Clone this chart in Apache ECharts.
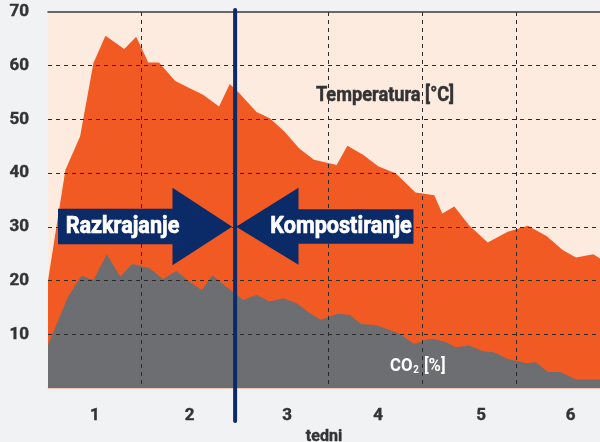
<!DOCTYPE html>
<html>
<head>
<meta charset="utf-8">
<script src="https://cdn.jsdelivr.net/npm/echarts@6/dist/echarts.min.js"></script>
<style>
html,body{margin:0;padding:0;background:#f1f2f4;}
#c{width:600px;height:442px;}
</style>
</head>
<body>
<div id="c"></div>
<script>
// ---- data (x in days) ----
const tempDays   = [0, 1.3, 2.4, 3.4, 4.3, 5.7, 6.6, 7.5, 8.3, 9.5, 10.3, 11.6, 12.8, 13.6, 14.3, 15.6, 16.6, 17.7, 18.8, 19.9, 21.6, 22.4, 23.6, 24.7, 26.0, 27.5, 28.9, 29.5, 30.4, 31.5, 32.9, 34.4, 35.9, 37.3, 38.5, 39.5, 40.8, 41.3];
const tempValues = [20, 40.6, 46.8, 60.5, 65.6, 63.1, 65.4, 60.6, 60.6, 57.2, 56.2, 54.6, 52.4, 56.6, 54.9, 51.4, 50.2, 47.7, 44.6, 42.5, 41.5, 45.1, 43.4, 41.3, 40.0, 36.4, 35.9, 32.5, 33.8, 30.3, 27.1, 29.1, 30.2, 28.3, 25.7, 24.3, 24.9, 24.1];
const co2Days    = [0, 1.5, 2.5, 3.4, 4.4, 5.4, 6.3, 7.6, 8.6, 9.6, 10.6, 11.5, 12.3, 13.3, 14.0, 14.6, 15.6, 16.6, 17.6, 18.6, 19.6, 20.4, 21.7, 22.6, 23.4, 24.6, 26.3, 27.4, 28.5, 28.8, 29.7, 30.5, 31.5, 32.5, 33.4, 34.4, 35.8, 36.5, 37.4, 38.3, 39.5, 41.3];
const co2Values  = [8.0, 17.0, 20.9, 20.1, 24.9, 20.7, 23.1, 22.3, 20.3, 21.8, 19.8, 18.2, 21.0, 18.9, 17.6, 16.4, 17.3, 16.1, 16.7, 15.8, 13.9, 12.7, 13.8, 13.6, 11.9, 11.7, 10.1, 8.2, 9.1, 9.1, 8.6, 7.6, 7.9, 6.9, 6.6, 5.4, 4.6, 4.8, 3.0, 3.0, 1.6, 1.6];
const weekLabels = ['1', '2', '3', '4', '5', '6'];
const weekLabelDays = [3.5, 10.6, 17.9, 24.7, 32.4, 39.1];
const phaseSplitDay = 14;
const xAxisName = 'tedni';
const tempLabel = 'Temperatura [°C]';
const phase1 = 'Razkrajanje';
const phase2 = 'Kompostiranje';

const FONT = 'Roboto, sans-serif';
const NAVY = '#0b2a68';
const DARK = '#333333';

const chart = echarts.init(document.getElementById('c'));
const zip = (xs, ys) => xs.map((x, i) => [x, ys[i]]);

chart.setOption({
  backgroundColor: '#f1f2f4',
  animation: false,
  grid: { left: 48, right: 0, top: 12, bottom: 54, show: true, backgroundColor: '#fdebdf', borderWidth: 0, containLabel: false, outerBoundsMode: 'none' },
  xAxis: [
    {
      type: 'value', min: 0, max: 41.3, interval: 7, position: 'bottom', z: 5,
      name: xAxisName, nameLocation: 'middle', nameGap: 41,
      nameTextStyle: { fontFamily: FONT, fontWeight: 'bold', fontSize: 16, color: DARK, textBorderColor: DARK, textBorderWidth: 0.4 },
      axisLine: { show: true, lineStyle: { color: '#efc9b6', width: 1 } },
      axisTick: { show: false },
      axisLabel: {
        customValues: weekLabelDays,
        formatter: (v) => { const i = weekLabelDays.indexOf(v); return i >= 0 ? weekLabels[i] : ''; },
        fontFamily: FONT, fontWeight: 'bold', fontSize: 17, color: DARK, margin: 19,
        textBorderColor: DARK, textBorderWidth: 0.4
      },
      splitLine: { show: true, showMinLine: false, showMaxLine: false, lineStyle: { type: [4, 4], color: '#2a2a2a', width: 1 } }
    },
    {
      type: 'value', min: 0, max: 41.3, position: 'top', z: 5,
      axisLine: { show: true, lineStyle: { color: '#3a3a3a', width: 1.5 } },
      axisTick: { show: false }, axisLabel: { show: false }, splitLine: { show: false }
    }
  ],
  yAxis: {
    type: 'value', min: 0, max: 70, interval: 10, z: 5,
    axisLine: { show: false }, axisTick: { show: false },
    axisLabel: { showMinLabel: false, fontFamily: FONT, fontWeight: 'bold', fontSize: 17, color: DARK, margin: 19,
      textBorderColor: DARK, textBorderWidth: 0.4 },
    splitLine: { show: true, showMinLine: false, showMaxLine: false, lineStyle: { type: [4, 4], color: '#2a2a2a', width: 1 } }
  },
  series: [
    {
      type: 'line', data: zip(tempDays, tempValues), symbol: 'none', z: 1,
      lineStyle: { width: 0 }, areaStyle: { color: '#f15a22', opacity: 1 }
    },
    {
      type: 'line', data: zip(co2Days, co2Values), symbol: 'none', z: 1,
      lineStyle: { width: 0 }, areaStyle: { color: '#6d6e71', opacity: 1 }
    }
  ]
});

const sx = chart.convertToPixel({ xAxisIndex: 0 }, phaseSplitDay);
const tipY = chart.convertToPixel({ yAxisIndex: 0 }, 30);

chart.setOption({
  graphic: [
    { type: 'polygon', z: 10, shape: { points: [[58, tipY - 18], [172.5, tipY - 18], [172.5, tipY - 39], [sx - 3, tipY], [172.5, tipY + 38.5], [172.5, tipY + 17.5], [58, tipY + 17.5]] }, style: { fill: NAVY } },
    { type: 'text', z: 11, x: 122.5, y: tipY, scaleX: 0.9, style: { text: phase1, fill: '#ffffff', stroke: '#ffffff', lineWidth: 0.7, font: 'bold 24px ' + FONT, align: 'center', verticalAlign: 'middle' } },
    { type: 'polygon', z: 10, shape: { points: [[sx + 1, tipY], [298.5, tipY - 39], [298.5, tipY - 17.5], [413.5, tipY - 17.5], [413.5, tipY + 17], [298.5, tipY + 17], [298.5, tipY + 38]] }, style: { fill: NAVY } },
    { type: 'text', z: 11, x: 341, y: tipY, scaleX: 0.9, style: { text: phase2, fill: '#ffffff', stroke: '#ffffff', lineWidth: 0.7, font: 'bold 24px ' + FONT, align: 'center', verticalAlign: 'middle' } },
    { type: 'line', z: 12, shape: { x1: sx, y1: 10, x2: sx, y2: 421 }, style: { stroke: NAVY, lineWidth: 4, lineCap: 'round' } },
    { type: 'text', z: 11, x: 385, y: 96, scaleX: 0.91, style: { text: tempLabel, fill: DARK, stroke: DARK, lineWidth: 0.5, font: 'bold 20px ' + FONT, align: 'center', verticalAlign: 'middle' } },
    { type: 'text', z: 11, x: 390, y: 366, scaleX: 0.88, style: {
        rich: { a: { fill: '#ffffff', font: 'bold 19px ' + FONT }, s: { fill: '#ffffff', font: 'bold 11px ' + FONT, padding: [9, 1, 0, 1] } },
        text: '{a|CO}{s|2}{a| [%]}', align: 'left', verticalAlign: 'middle' } }
  ]
});
</script>
</body>
</html>
